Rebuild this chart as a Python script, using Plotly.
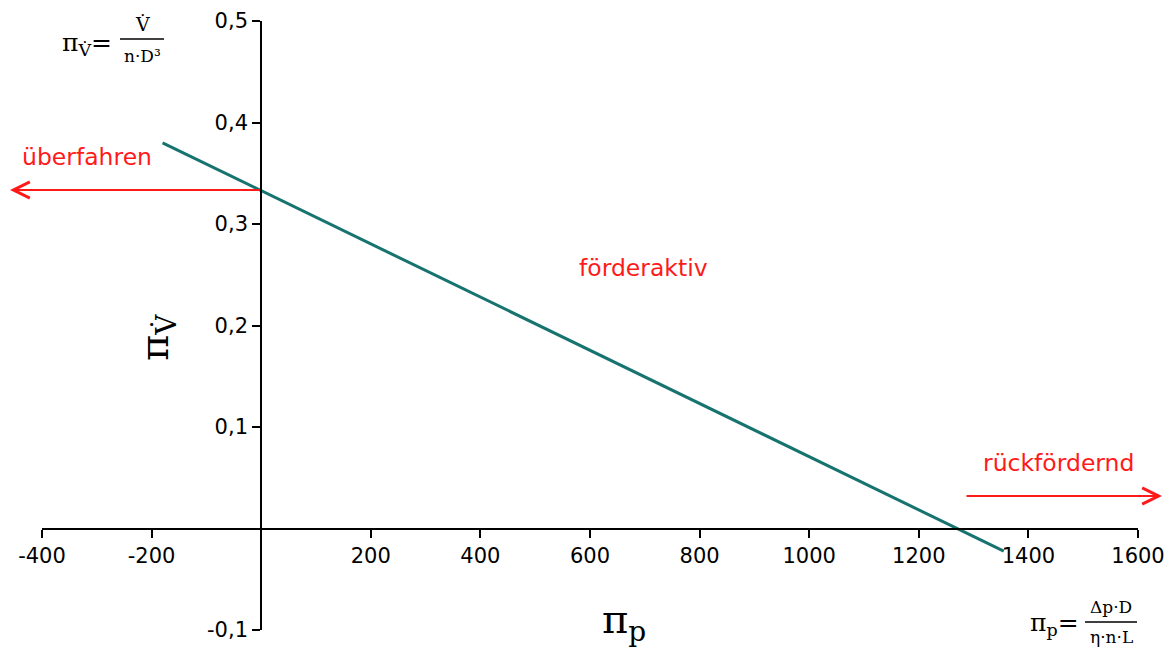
import plotly.graph_objects as go

# Operating line pi_V versus pi_p
pi_p = [-180, 1355]
pi_v = [0.380, -0.0223]

x_ticks = [-400, -200, 200, 400, 600, 800, 1000, 1200, 1400, 1600]
x_ticktext = ["-400", "-200", "200", "400", "600", "800", "1000", "1200", "1400", "1600"]
y_ticks = [-0.1, 0.1, 0.2, 0.3, 0.4, 0.5]
y_ticktext = ["-0,1", "0,1", "0,2", "0,3", "0,4", "0,5"]

X_RANGE = [-400, 1600]
Y_RANGE = [-0.1, 0.5]

W, H = 1172, 650
ML, MR, MT, MB = 42, 34, 21, 20
PW, PH = W - ML - MR, H - MT - MB


def px(x):
    return (x - ML) / PW


def py(y):
    return (H - MB - y) / PH


TEAL = "#16736f"
RED = "#ff1a1a"
SANS = "DejaVu Sans"
SERIF = "DejaVu Serif"

fig = go.Figure()
fig.add_trace(go.Scatter(x=pi_p, y=pi_v, mode="lines",
                         line=dict(color=TEAL, width=3), showlegend=False,
                         hoverinfo="skip"))

axis_common = dict(showgrid=False, zeroline=False, showline=True,
                   linecolor="black", linewidth=2, ticks="outside",
                   ticklen=8, tickwidth=2, tickcolor="black", automargin=False,
                   tickfont=dict(family=SANS, size=21, color="black"))

fig.update_layout(
    width=W, height=H,
    margin=dict(l=ML, r=MR, t=MT, b=MB, autoexpand=False),
    plot_bgcolor="white", paper_bgcolor="white",
    xaxis=dict(range=X_RANGE, tickvals=x_ticks, ticktext=x_ticktext,
               anchor="free",
               position=(0 - Y_RANGE[0]) / (Y_RANGE[1] - Y_RANGE[0]),
               **axis_common),
    yaxis=dict(range=Y_RANGE, tickvals=y_ticks, ticktext=y_ticktext,
               anchor="free",
               position=(0 - X_RANGE[0]) / (X_RANGE[1] - X_RANGE[0]),
               **axis_common),
)

ann = []


def label(x, y, text, size, family=SANS, color="black", xanchor="center", **kw):
    ann.append(dict(x=px(x), y=py(y), xref="paper", yref="paper", text=text,
                    showarrow=False, xanchor=xanchor, yanchor="middle",
                    font=dict(family=family, size=size, color=color), **kw))


# Region labels
label(87, 157, "überfahren", 23.5, color=RED)
label(643, 268, "förderaktiv", 23.5, color=RED)
label(1058, 463, "rückfördernd", 23.5, color=RED)

# Direction arrows
ann.append(dict(x=px(10), y=py(190), xref="paper", yref="paper",
                ax=251, ay=0, axref="pixel", ayref="pixel",
                showarrow=True, arrowhead=5, arrowsize=1.6, arrowwidth=2,
                arrowcolor=RED, text=""))
ann.append(dict(x=px(1162), y=py(496), xref="paper", yref="paper",
                ax=-197, ay=0, axref="pixel", ayref="pixel",
                showarrow=True, arrowhead=5, arrowsize=1.6, arrowwidth=2,
                arrowcolor=RED, text=""))

# Axis titles
label(157, 338, "π<sub>V̇</sub>", 40, family=SERIF, textangle=-90)
label(624, 622, "π<sub>p</sub>", 40, family=SERIF)

# Definition of pi_V
label(114, 44, "π<sub>V̇</sub>=", 25, family=SERIF, xanchor="right")
label(142, 24, "V̇", 19, family=SERIF)
label(142, 56, "n·D³", 17, family=SERIF)

# Definition of pi_p
label(1081, 624, "π<sub>p</sub>=", 25, family=SERIF, xanchor="right")
label(1111, 607, "Δp·D", 17, family=SERIF)
label(1111, 637, "η·n·L", 17, family=SERIF)

fig.update_layout(annotations=ann)

# Fraction bars
fig.add_shape(type="line", xref="paper", yref="paper",
              x0=px(120), x1=px(164), y0=py(39), y1=py(39),
              line=dict(color="black", width=1.5))
fig.add_shape(type="line", xref="paper", yref="paper",
              x0=px(1085), x1=px(1137), y0=py(622), y1=py(622),
              line=dict(color="black", width=1.5))

fig.write_html("out.html")
